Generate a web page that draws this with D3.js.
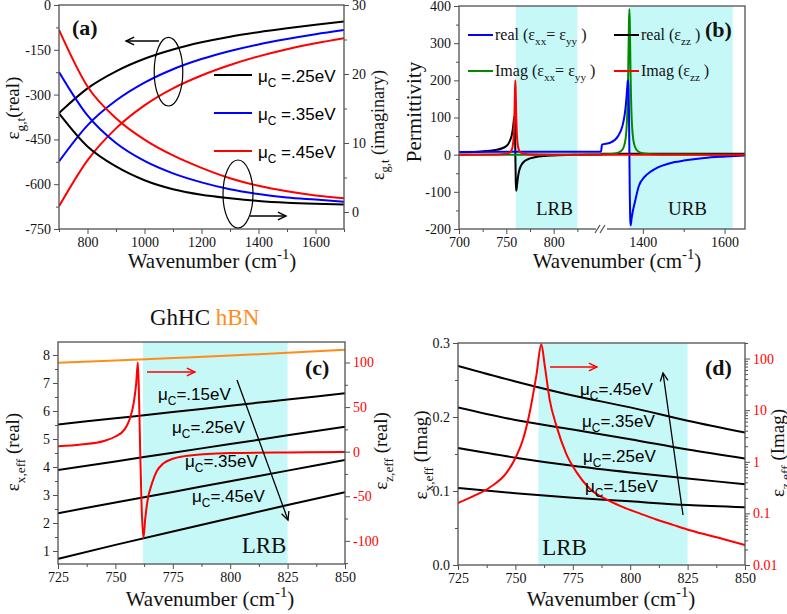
<!DOCTYPE html>
<html><head><meta charset="utf-8">
<script src="https://cdn.jsdelivr.net/npm/d3@7"></script>
<style>body{margin:0;background:#fff}svg{display:block}</style>
</head><body>
<svg id="c" width="787" height="614"></svg>
<script>
// ---------- Panel (a) data ----------
const aWn = [700,800,900,1000,1100,1200,1300,1400,1500,1600,1700];
const aReal25 = [-362,-279,-222,-180,-149,-125,-106,-91,-78,-66,-55];
const aReal35 = [-524,-403,-320,-260,-215,-181,-154,-132,-114,-98,-84];
const aReal45 = [-674,-520,-413,-336,-279,-236,-201,-172,-148,-128,-111];
const aImag25 = [14.3,9.5,6.6,4.6,3.3,2.5,2.0,1.6,1.35,1.2,1.1];
const aImag35 = [20.3,14.0,10.0,7.4,5.6,4.3,3.3,2.6,2.1,1.8,1.5];
const aImag45 = [26.4,18.2,13.6,10.5,8.2,6.4,4.9,3.8,3.0,2.4,2.0];
const aLegend = [".25eV",".35eV",".45eV"];
// ---------- Panel (b) data ----------
const bRealZZWn = [700,720,740,750,753.5,755.5,756.5,757.5,758,758.5,759,759.5,760,760.5,761,761.5,762.5,763.5,765.5,769.5,775,780,790,800,825,850,1300,1650];
const bRealZZ = [6.3,8.0,13,23,36,50,63,83,95,103,83,3,-77,-97,-89,-77,-57,-44,-29.5,-17,-10,-7,-3.7,-2,0,0.8,2.7,2.8];
const bImagZZWn = [700,740,750,753.5,755.5,756.5,757.5,758,758.5,759,759.5,760,760.5,761,761.5,762.5,763.5,765.5,769.5,780,800,850,1300,1650];
const bImagZZ = [0.06,0.5,2.2,5.4,11.8,20,40,61.5,100,160,200,160,100,61.5,40,20,11.8,5.4,2,0.5,0.1,0,0,0];
const bRealXXWn = [700,750,800,850,1300,1320,1340,1350,1355,1358,1360,1362,1363,1364,1365,1366,1367,1368,1369,1370,1371,1372,1375,1380,1390,1404,1420,1437,1460,1478,1500,1519,1550,1602,1650];
const bRealXX = [7.4,7.6,7.8,7.9,27,32,51,77,104,130,155,184,197,200,180,115,5,-105,-170,-190,-185,-175,-155,-130,-85,-60,-45,-34,-25,-20,-16,-13,-9,-5,-2];
const bImagXXWn = [700,850,1300,1320,1340,1350,1355,1358,1360,1362,1363,1364,1365,1366,1367,1368,1369,1370,1371,1372,1374,1376,1379,1384,1394,1414,1450,1500,1650];
const bImagXX = [0,0,0.9,1.9,5.6,13.8,27,45,70,116,156,212,284,358,392,358,284,212,156,116,70,45,27,14,5.6,1.9,0.6,0.2,0.05];
// ---------- Panel (c) data ----------
const cWn = [725,750,775,800,825,850];
const cMu15 = [5.52,5.74,5.96,6.19,6.41,6.63];
const cMu25 = [3.89,4.20,4.51,4.82,5.13,5.44];
const cMu35 = [2.35,2.73,3.11,3.49,3.87,4.25];
const cMu45 = [0.72,1.22,1.70,2.17,2.64,3.10];
const cHbn = [7.72,7.80,7.89,7.98,8.08,8.19];
const cZRealWn = [725,735,745,750,754,756,758,759,759.8,760.3,760.8,761.4,762.2,763,764,766,768,771,775,780,790,800,825,850];
const cZReal = [6,8,12,17,25,35,55,75,100,60,0,-60,-97,-75,-55,-35,-22,-13,-8,-5,-2.5,-1.5,-0.8,-0.5];
// ---------- Panel (d) data ----------
const dWn = [725,750,775,800,825,850];
const dMu45 = [0.269,0.248,0.229,0.213,0.195,0.179];
const dMu35 = [0.213,0.196,0.183,0.170,0.156,0.144];
const dMu25 = [0.158,0.145,0.134,0.125,0.117,0.109];
const dMu15 = [0.104,0.097,0.091,0.086,0.081,0.078];
const dZImagWn = [725,731.5,738.8,746.1,750.4,753.3,756.2,759.1,761.3,762.8,764.9,767.9,772.2,776.6,782.4,789.6,796.9,804.1,811.4,818.6,826,840.4,850];
const dZImag = [0.159,0.213,0.318,0.61,1.28,2.7,8.9,46,190,72,16.2,4.9,1.41,0.63,0.30,0.186,0.132,0.10,0.076,0.060,0.047,0.032,0.0245];
const muLabels = [".15eV",".25eV",".35eV",".45eV"];

// ---------- drawing ----------
const svg = d3.select("#c");
const serif = "'Liberation Serif','Times New Roman',serif";
const sans = "'Liberation Sans',Arial,sans-serif";
const AX = "#505050";
const BLUE="#0000ff", RED="#ff0000", GREEN="#008a00", ORANGE="#ff8c1a", SHADE="#c6f8f8";
const defs = svg.append("defs");
const zip = (xs, ys) => xs.map((x,i)=>[x, ys[i]]);

function clip(id, p){
  defs.append("clipPath").attr("id",id).append("rect")
    .attr("x",p.x0).attr("y",p.y0).attr("width",p.x1-p.x0).attr("height",p.y1-p.y0);
}
function frame(p){
  svg.append("rect").attr("x",p.x0).attr("y",p.y0).attr("width",p.x1-p.x0).attr("height",p.y1-p.y0)
    .attr("fill","none").attr("stroke",AX).attr("stroke-width",1.3);
}
function ax(gen, tx, ty, color){
  const g = svg.append("g").attr("transform",`translate(${tx},${ty})`).call(gen);
  g.select(".domain").remove();
  g.selectAll(".tick line").attr("stroke",AX).attr("stroke-width",1);
  g.selectAll(".tick text").attr("font-family",serif).attr("font-size",14).attr("fill",color||"#111");
  return g;
}
function rich(sel, segs, size){
  let cur = 0;
  segs.forEach(s=>{
    const want = s.sub ? 0.3*size : (s.sup ? -0.42*size : 0);
    const t = sel.append("tspan").text(s.t).attr("dy", want-cur);
    if (s.sub || s.sup) t.attr("font-size", size*0.7);
    if (s.fill) t.attr("fill", s.fill);
    cur = want;
  });
  return sel;
}
function label(x, y, segs, size, opts={}){
  const t = svg.append("text").attr("font-family", opts.family||serif).attr("font-size",size)
    .attr("fill", opts.fill||"#111").attr("text-anchor", opts.anchor||"start")
    .attr("font-weight", opts.weight||"normal");
  if (opts.rot) t.attr("transform",`translate(${x},${y}) rotate(-90)`);
  else t.attr("x",x).attr("y",y);
  return rich(t, segs, size);
}
function arrow(x1,y1,x2,y2,color,w){
  const g = svg.append("g").attr("stroke",color).attr("stroke-width",w||1.3).attr("fill","none");
  g.append("line").attr("x1",x1).attr("y1",y1).attr("x2",x2).attr("y2",y2);
  const ang = Math.atan2(y2-y1, x2-x1), L = 9, sp = 0.45;
  g.append("path").attr("d",`M${x2-L*Math.cos(ang-sp)},${y2-L*Math.sin(ang-sp)}L${x2},${y2}L${x2-L*Math.cos(ang+sp)},${y2-L*Math.sin(ang+sp)}`);
}
function xTitle(cx, y){
  label(cx, y, [{t:"Wavenumber (cm"},{t:"-1",sup:true},{t:")"}], 21, {anchor:"middle"});
}
function muText(x, y, val, space){
  label(x, y, [{t:"μ"},{t:"C",sub:true},{t:(space?" ":"")+"="+val}], 17, {family:sans, fill:"#000"});
}
const fmt = d => String(d);

// ================= Panel (a) =================
const A = {x0:59,x1:344,y0:5,y1:229};
clip("ca", A);
const xa = d3.scaleLinear().domain([700,1700]).range([A.x0,A.x1]);
const yaL = d3.scaleLinear().domain([-750,0]).range([A.y1,A.y0]);
const yaR = d3.scaleLinear().domain([-2.46,30]).range([A.y1,A.y0]);
const ga = svg.append("g").attr("clip-path","url(#ca)");
const lineAL = d3.line().x(d=>xa(d[0])).y(d=>yaL(d[1])).curve(d3.curveMonotoneX);
const lineAR = d3.line().x(d=>xa(d[0])).y(d=>yaR(d[1])).curve(d3.curveMonotoneX);
[[aReal25,"#000"],[aReal35,BLUE],[aReal45,RED]].forEach(([v,c])=>
  ga.append("path").attr("d",lineAL(zip(aWn,v))).attr("fill","none").attr("stroke",c).attr("stroke-width",2));
[[aImag25,"#000"],[aImag35,BLUE],[aImag45,RED]].forEach(([v,c])=>
  ga.append("path").attr("d",lineAR(zip(aWn,v))).attr("fill","none").attr("stroke",c).attr("stroke-width",2));
frame(A);
ax(d3.axisLeft(yaL).tickValues([0,-150,-300,-450,-600,-750]).tickSize(5).tickPadding(3).tickFormat(fmt), A.x0, 0);
ax(d3.axisLeft(yaL).tickValues([-75,-225,-375,-525,-675]).tickSize(3).tickFormat(""), A.x0, 0);
ax(d3.axisRight(yaR).tickValues([0,10,20,30]).tickSize(5).tickPadding(3).tickFormat(fmt), A.x1, 0);
ax(d3.axisRight(yaR).tickValues([5,15,25]).tickSize(3).tickFormat(""), A.x1, 0);
ax(d3.axisBottom(xa).tickValues([800,1000,1200,1400,1600]).tickSize(5).tickPadding(3).tickFormat(fmt), 0, A.y1);
ax(d3.axisBottom(xa).tickValues([700,900,1100,1300,1500,1700]).tickSize(3).tickFormat(""), 0, A.y1);
label(72, 35, [{t:"(a)"}], 22, {weight:"bold"});
[["#000",75],[BLUE,113],[RED,151]].forEach(([c,y],i)=>{
  svg.append("line").attr("x1",214).attr("x2",252).attr("y1",y).attr("y2",y).attr("stroke",c).attr("stroke-width",2);
  muText(258, y+7, aLegend[i], true);
});
svg.append("ellipse").attr("cx",168.5).attr("cy",71.7).attr("rx",14.3).attr("ry",34.3).attr("fill","none").attr("stroke","#000").attr("stroke-width",1.2);
svg.append("ellipse").attr("cx",238).attr("cy",194).attr("rx",15).attr("ry",34).attr("fill","none").attr("stroke","#000").attr("stroke-width",1.2);
arrow(159,41,126,41,"#000",1.4);
arrow(250,216,286,216,"#000",1.4);
label(19, 108, [{t:"ε"},{t:"g,t",sub:true},{t:"(real)"}], 19, {rot:true, anchor:"middle"});
label(384, 125, [{t:"ε"},{t:"g,t",sub:true},{t:" (imaginary)"}], 18, {rot:true, anchor:"middle"});
xTitle(212, 268);

// ================= Panel (b) =================
const B = {x0:459,x1:745,y0:6,y1:229};
clip("cb", B);
const xbL = d3.scaleLinear().domain([700,850]).range([B.x0,601]);
const xbR = d3.scaleLinear().domain([1300,1650]).range([602,B.x1]);
const xb = v => v <= 1000 ? xbL(v) : xbR(v);
const yb = d3.scaleLinear().domain([-200,400]).range([B.y1,B.y0]);
const gb = svg.append("g").attr("clip-path","url(#cb)");
gb.append("rect").attr("x",xbL(760)).attr("y",B.y0).attr("width",xbL(825)-xbL(760)).attr("height",B.y1-B.y0).attr("fill",SHADE);
gb.append("rect").attr("x",xbR(1367)).attr("y",B.y0).attr("width",xbR(1620)-xbR(1367)).attr("height",B.y1-B.y0).attr("fill",SHADE);
const lineB = d3.line().x(d=>xb(d[0])).y(d=>yb(d[1])).curve(d3.curveMonotoneX);
[[bRealZZWn,bRealZZ,"#000"],[bImagXXWn,bImagXX,GREEN],[bRealXXWn,bRealXX,BLUE],[bImagZZWn,bImagZZ,RED]].forEach(([x,v,c])=>
  gb.append("path").attr("d",lineB(zip(x,v))).attr("fill","none").attr("stroke",c).attr("stroke-width",2));
frame(B);
ax(d3.axisLeft(yb).tickValues([-200,-100,0,100,200,300,400]).tickSize(5).tickPadding(3).tickFormat(fmt), B.x0, 0);
ax(d3.axisLeft(yb).tickValues([-150,-50,50,150,250,350]).tickSize(3).tickFormat(""), B.x0, 0);
ax(d3.axisBottom(xbL).tickValues([700,750,800]).tickSize(5).tickPadding(3).tickFormat(fmt), 0, B.y1);
ax(d3.axisBottom(xbL).tickValues([725,775,825]).tickSize(3).tickFormat(""), 0, B.y1);
ax(d3.axisBottom(xbR).tickValues([1400,1600]).tickSize(5).tickPadding(3).tickFormat(fmt), 0, B.y1);
ax(d3.axisBottom(xbR).tickValues([1500]).tickSize(3).tickFormat(""), 0, B.y1);
svg.append("rect").attr("x",596).attr("y",B.y1-1).attr("width",11).attr("height",3).attr("fill","#fff");
svg.append("path").attr("d",`M595,${B.y1+4}L600,${B.y1-4}M600,${B.y1+4}L605,${B.y1-4}`).attr("stroke",AX).attr("stroke-width",1.2);
label(705, 37, [{t:"(b)"}], 22, {weight:"bold"});
const legB = [
  [468,35,BLUE,[{t:"real (ε"},{t:"xx",sub:true},{t:"= ε"},{t:"yy",sub:true},{t:" )"}]],
  [614,35,"#000",[{t:"real (ε"},{t:"zz",sub:true},{t:" )"}]],
  [468,71,GREEN,[{t:"Imag (ε"},{t:"xx",sub:true},{t:"= ε"},{t:"yy",sub:true},{t:" )"}]],
  [614,71,RED,[{t:"Imag (ε"},{t:"zz",sub:true},{t:" )"}]]
];
legB.forEach(([x,y,c,segs])=>{
  svg.append("line").attr("x1",x).attr("x2",x+25).attr("y1",y).attr("y2",y).attr("stroke",c).attr("stroke-width",2);
  label(x+27, y+5, segs, 16);
});
label(554.5, 215, [{t:"LRB"}], 19, {anchor:"middle"});
label(687.5, 215, [{t:"URB"}], 19, {anchor:"middle"});
label(421, 112, [{t:"Permittivity"}], 21, {rot:true, anchor:"middle"});
xTitle(617, 268);

// ================= Panel (c) =================
const C = {x0:58,x1:345,y0:342,y1:564};
clip("cc", C);
const xc = d3.scaleLinear().domain([725,850]).range([C.x0,C.x1]);
const ycL = d3.scaleLinear().domain([0.536,8.464]).range([C.y1,C.y0]);
const ycR = d3.scaleLinear().domain([-126,123]).range([C.y1,C.y0]);
const gc = svg.append("g").attr("clip-path","url(#cc)");
gc.append("rect").attr("x",xc(762)).attr("y",C.y0).attr("width",xc(825)-xc(762)).attr("height",C.y1-C.y0).attr("fill",SHADE);
const lineCL = d3.line().x(d=>xc(d[0])).y(d=>ycL(d[1])).curve(d3.curveMonotoneX);
const lineCR = d3.line().x(d=>xc(d[0])).y(d=>ycR(d[1])).curve(d3.curveMonotoneX);
[cMu15,cMu25,cMu35,cMu45].forEach(v=>
  gc.append("path").attr("d",lineCL(zip(cWn,v))).attr("fill","none").attr("stroke","#000").attr("stroke-width",2));
gc.append("path").attr("d",lineCR(zip(cZRealWn,cZReal))).attr("fill","none").attr("stroke",RED).attr("stroke-width",2);
gc.append("path").attr("d",lineCL(zip(cWn,cHbn))).attr("fill","none").attr("stroke",ORANGE).attr("stroke-width",2);
frame(C);
ax(d3.axisLeft(ycL).tickValues([1,2,3,4,5,6,7,8]).tickSize(5).tickPadding(3).tickFormat(fmt), C.x0, 0);
ax(d3.axisLeft(ycL).tickValues([1.5,2.5,3.5,4.5,5.5,6.5,7.5]).tickSize(3).tickFormat(""), C.x0, 0);
ax(d3.axisRight(ycR).tickValues([-100,-50,0,50,100]).tickSize(5).tickPadding(3).tickFormat(fmt), C.x1, 0, RED);
ax(d3.axisRight(ycR).tickValues([-125,-75,-25,25,75]).tickSize(3).tickFormat(""), C.x1, 0);
ax(d3.axisBottom(xc).tickValues([725,750,775,800,825,850]).tickSize(5).tickPadding(3).tickFormat(fmt), 0, C.y1);
ax(d3.axisBottom(xc).tickValues([737.5,762.5,787.5,812.5,837.5]).tickSize(3).tickFormat(""), 0, C.y1);
label(305, 375, [{t:"(c)"}], 22, {weight:"bold"});
label(150, 325, [{t:"GhHC "},{t:"hBN",fill:ORANGE}], 23);
muText(158, 400, muLabels[0]);
muText(172, 433, muLabels[1]);
muText(185, 467, muLabels[2]);
muText(192, 502, muLabels[3]);
arrow(147,372,195,372,RED,1.4);
arrow(237,380,288,520,"#000",1.3);
label(264, 553, [{t:"LRB"}], 23, {anchor:"middle"});
label(19, 452, [{t:"ε"},{t:"x,eff",sub:true},{t:" (real)"}], 19, {rot:true, anchor:"middle"});
label(387, 451, [{t:"ε"},{t:"z,eff",sub:true},{t:" (real)"}], 19, {rot:true, anchor:"middle"});
xTitle(210, 606);

// ================= Panel (d) =================
const D = {x0:458,x1:745,y0:343,y1:565};
clip("cd", D);
const xd = d3.scaleLinear().domain([725,850]).range([D.x0,D.x1]);
const ydL = d3.scaleLinear().domain([0,0.3]).range([D.y1,D.y0]);
const ydR = d3.scaleLog().domain([0.01,200]).range([D.y1,D.y0]);
const gd = svg.append("g").attr("clip-path","url(#cd)");
gd.append("rect").attr("x",xd(760)).attr("y",D.y0).attr("width",xd(825)-xd(760)).attr("height",D.y1-D.y0).attr("fill",SHADE);
const lineDL = d3.line().x(d=>xd(d[0])).y(d=>ydL(d[1])).curve(d3.curveMonotoneX);
const lineDR = d3.line().x(d=>xd(d[0])).y(d=>ydR(d[1])).curve(d3.curveMonotoneX);
[dMu15,dMu25,dMu35,dMu45].forEach(v=>
  gd.append("path").attr("d",lineDL(zip(dWn,v))).attr("fill","none").attr("stroke","#000").attr("stroke-width",2));
gd.append("path").attr("d",lineDR(zip(dZImagWn,dZImag))).attr("fill","none").attr("stroke",RED).attr("stroke-width",2);
frame(D);
ax(d3.axisLeft(ydL).tickValues([0,0.1,0.2,0.3]).tickSize(5).tickPadding(3).tickFormat(d3.format(".1f")), D.x0, 0);
ax(d3.axisLeft(ydL).tickValues([0.05,0.15,0.25]).tickSize(3).tickFormat(""), D.x0, 0);
ax(d3.axisRight(ydR).tickValues([0.01,0.1,1,10,100]).tickSize(5).tickPadding(3).tickFormat(fmt), D.x1, 0, RED);
const minorLog = [];
[0.01,0.1,1,10,100].forEach(b=>{ for(let k=2;k<=9;k++){ const v=+(b*k).toPrecision(3); if(v<=200) minorLog.push(v);} });
ax(d3.axisRight(ydR).tickValues(minorLog).tickSize(3).tickFormat(""), D.x1, 0);
ax(d3.axisBottom(xd).tickValues([725,750,775,800,825,850]).tickSize(5).tickPadding(3).tickFormat(fmt), 0, D.y1);
ax(d3.axisBottom(xd).tickValues([737.5,762.5,787.5,812.5,837.5]).tickSize(3).tickFormat(""), 0, D.y1);
label(705, 375, [{t:"(d)"}], 22, {weight:"bold"});
muText(580, 395, muLabels[3]);
muText(582, 427, muLabels[2]);
muText(583, 462, muLabels[1]);
muText(585, 492, muLabels[0]);
arrow(550,367,597,367,RED,1.4);
arrow(683,515,663,373,"#000",1.3);
label(564.5, 555, [{t:"LRB"}], 23, {anchor:"middle"});
label(427, 455, [{t:"ε"},{t:"x,eff",sub:true},{t:" (Imag)"}], 19, {rot:true, anchor:"middle"});
label(784, 453, [{t:"ε"},{t:"z,eff",sub:true},{t:" (Imag)"}], 19, {rot:true, anchor:"middle"});
xTitle(611, 606);
</script>
</body></html>
